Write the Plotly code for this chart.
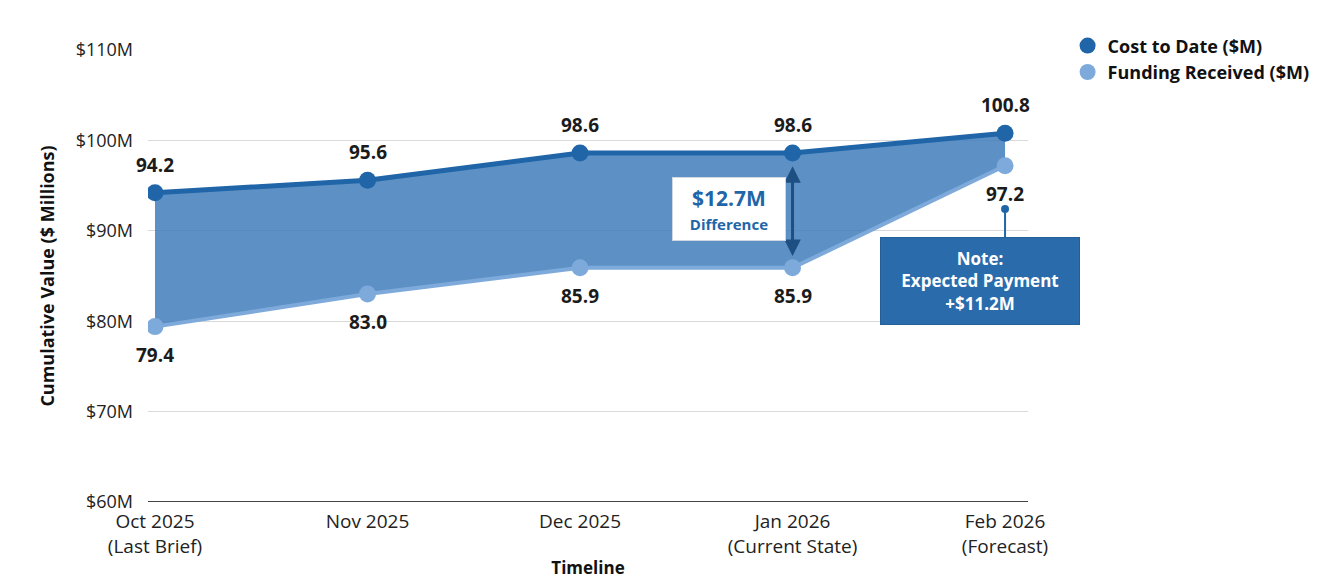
import plotly.graph_objects as go

# Monthly cumulative figures ($M)
months = ["Oct 2025<br>(Last Brief)", "Nov 2025", "Dec 2025",
          "Jan 2026<br>(Current State)", "Feb 2026<br>(Forecast)"]
cost_to_date = [94.2, 95.6, 98.6, 98.6, 100.8]
funding_received = [79.4, 83.0, 85.9, 85.9, 97.2]
y_ticks = [60, 70, 80, 90, 100, 110]
y_tick_text = ["$60M", "$70M", "$80M", "$90M", "$100M", "$110M"]
expected_payment = 11.2

gap_index = 3
gap_value = round(cost_to_date[gap_index] - funding_received[gap_index], 1)

DARK = "#1f65a8"
LIGHT = "#7eaadb"
FILL = "rgba(62,124,186,0.84)"
FONT = "Open Sans"

x = list(range(len(months)))

fig = go.Figure()

fig.add_trace(go.Scatter(
    x=x, y=funding_received, mode="lines+markers",
    line=dict(color=LIGHT, width=4),
    marker=dict(color=LIGHT, size=17),
    showlegend=False,
))
fig.add_trace(go.Scatter(
    x=x, y=cost_to_date, mode="lines+markers",
    line=dict(color=DARK, width=5),
    marker=dict(color=DARK, size=17),
    fill="tonexty", fillcolor=FILL,
    showlegend=False,
))

# legend entries: dots only
for name, color in [("Cost to Date ($M)", DARK), ("Funding Received ($M)", LIGHT)]:
    fig.add_trace(go.Scatter(
        x=[None], y=[None], mode="markers", name=name, legendgroup=name,
        marker=dict(color=color, size=20),
    ))

annotations = []
label_font = dict(family=FONT, size=19, color="#1b1b1b", weight="bold")
for i, v in enumerate(cost_to_date):
    annotations.append(dict(x=i, y=v, text=f"{v:.1f}", showarrow=False,
                            yshift=28, font=label_font))
for i, v in enumerate(funding_received):
    annotations.append(dict(x=i, y=v, text=f"{v:.1f}", showarrow=False,
                            yshift=-28, font=label_font))

# double-headed arrow spanning the current gap
annotations.append(dict(
    x=gap_index, y=funding_received[gap_index] + 1.3,
    ax=gap_index, ay=cost_to_date[gap_index] - 1.3,
    xref="x", yref="y", axref="x", ayref="y",
    text="", showarrow=True, arrowhead=2, arrowside="end+start",
    arrowsize=1.1, arrowwidth=3, arrowcolor="#1d4f82",
))
annotations.append(dict(
    x=2.7, y=92.4,
    text=(f"<span style='font-size:21px'>${gap_value}M</span><br>"
          "<span style='font-size:15px'>Difference</span>"),
    showarrow=False, bgcolor="white", bordercolor="#cfd8e2", borderwidth=1,
    width=110, height=60, valign="middle",
    font=dict(family=FONT, color=DARK, weight="bold", size=18),
))

# forecast note with leader line
fig.add_shape(type="line", x0=4, x1=4, y0=92.4, y1=89.3,
              line=dict(color=DARK, width=2))
fig.add_trace(go.Scatter(x=[4], y=[92.4], mode="markers",
                         marker=dict(color=DARK, size=8),
                         showlegend=False, hoverinfo="skip"))
annotations.append(dict(
    x=3.88, y=84.4,
    text=f"Note:<br>Expected Payment<br>+${expected_payment}M",
    showarrow=False, bgcolor="#2a6cab", bordercolor="#245f98", borderwidth=1,
    width=196, height=84, valign="middle",
    font=dict(family=FONT, size=17, color="white", weight="bold"),
))

fig.update_layout(
    width=1340, height=579,
    margin=dict(l=148, r=312, t=50, b=77),
    paper_bgcolor="white", plot_bgcolor="white",
    font=dict(family=FONT, color="#222"),
    annotations=annotations,
    legend=dict(x=1.045, y=1.05, xanchor="left", yanchor="top",
                font=dict(family=FONT, size=18, color="#111", weight="bold"),
                bgcolor="rgba(0,0,0,0)", traceorder="normal",
                tracegroupgap=8),
    showlegend=True,
)
fig.update_xaxes(
    tickmode="array", tickvals=x, ticktext=months,
    range=[-0.033, 4.108], showgrid=False, zeroline=False,
    tickfont=dict(family=FONT, size=19, color="#222"),
    ticklabelstandoff=6, automargin=False,
    title=dict(text="Timeline", font=dict(family=FONT, size=17, color="#111", weight="bold"),
               standoff=6),
    showline=False, ticks="",
)
fig.update_yaxes(
    range=[60, 110], tickvals=y_ticks, ticktext=y_tick_text,
    showgrid=True, gridcolor="#d9d9d9", gridwidth=1, zeroline=False,
    tickfont=dict(family=FONT, size=18, color="#222"),
    ticklabelstandoff=14, automargin=False,
    title=dict(text="Cumulative Value ($ Millions)",
               font=dict(family=FONT, size=18, color="#111", weight="bold"),
               standoff=16),
)
# baseline at $60M
fig.add_shape(type="line", xref="paper", x0=0, x1=1, yref="y", y0=60, y1=60,
              line=dict(color="#444", width=2))

fig.write_html("out.html")
